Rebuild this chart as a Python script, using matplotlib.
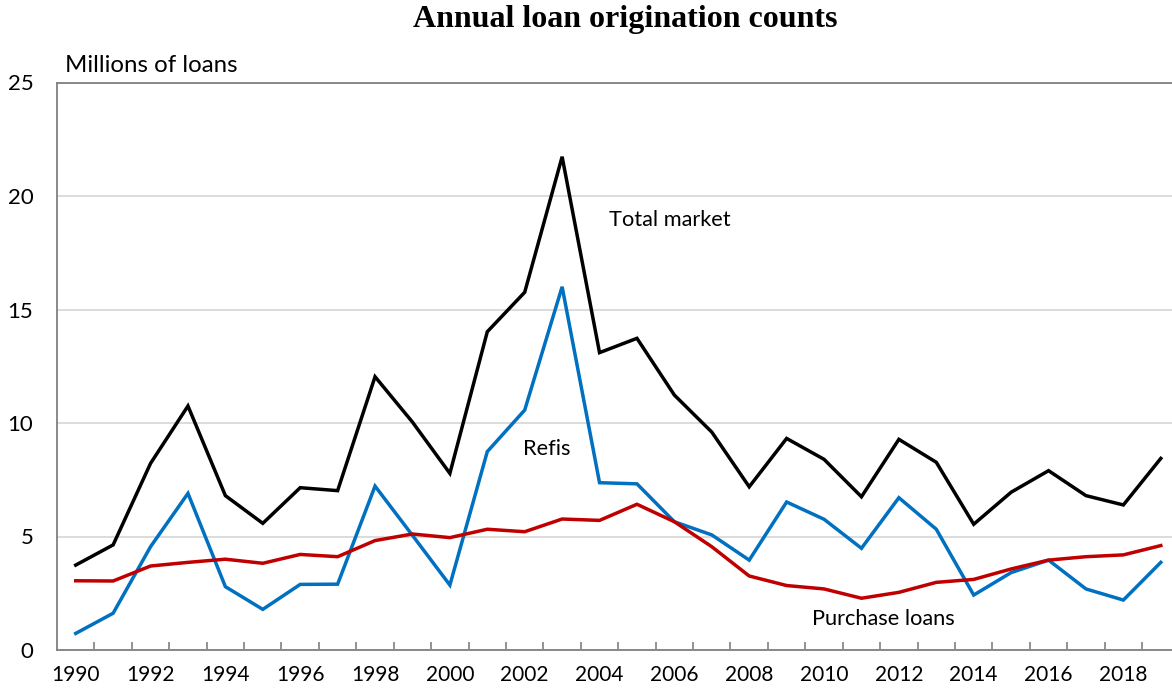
import matplotlib
matplotlib.use("Agg")
import matplotlib.pyplot as plt
import numpy as np

years = list(range(1990, 2020))
total_market = [3.74, 4.63, 8.22, 10.75, 6.80, 5.58, 7.15, 7.02, 12.04, 10.04,
                7.78, 14.02, 15.76, 21.73, 13.10, 13.73, 11.23, 9.60, 7.19, 9.32,
                8.40, 6.75, 9.28, 8.27, 5.54, 6.95, 7.90, 6.80, 6.39, 8.44]
refis = [0.73, 1.62, 4.55, 6.90, 2.79, 1.79, 2.89, 2.90, 7.22, 5.05,
         2.86, 8.74, 10.57, 16.00, 7.37, 7.32, 5.65, 5.07, 3.96, 6.52,
         5.76, 4.48, 6.71, 5.32, 2.42, 3.41, 3.96, 2.69, 2.20, 3.86]
purchase = [3.05, 3.04, 3.70, 3.86, 4.00, 3.82, 4.21, 4.11, 4.82, 5.11,
            4.95, 5.32, 5.21, 5.77, 5.71, 6.42, 5.65, 4.55, 3.26, 2.84,
            2.69, 2.28, 2.54, 2.98, 3.11, 3.57, 3.96, 4.11, 4.19, 4.60]
y_ticks = [0, 5, 10, 15, 20, 25]

W, H = 1172, 696
fig = plt.figure(figsize=(W / 100, H / 100), dpi=100)
left, right, top, bottom = 57, 1179.5, 82.5, 650
ax = fig.add_axes([left / W, 1 - bottom / H, (right - left) / W, (bottom - top) / H])

font = "Lato"
x = np.arange(len(years))
ax.plot(x, total_market, color="black", lw=2.5, solid_joinstyle="miter", zorder=3)
ax.plot(x, refis, color="#0070C0", lw=2.5, solid_joinstyle="miter", zorder=3)
ax.plot(x, purchase, color="#C00000", lw=2.5, solid_joinstyle="miter", zorder=4)

ax.set_xlim(-0.5, len(years) - 0.5)
ax.set_ylim(0, 25)
ax.set_yticks(y_ticks)
ax.set_yticklabels([str(v) for v in y_ticks], fontfamily=font, fontsize=16)
ax.tick_params(axis="y", length=0, pad=17)
ax.grid(axis="y", color="#D9D9D9", lw=1.3, zorder=0)
ax.set_axisbelow(True)

maj = [i for i, yv in enumerate(years) if yv % 2 == 0]
ax.set_xticks(maj)
ax.set_xticklabels([str(years[i]) for i in maj], fontfamily=font, fontsize=15)
ax.tick_params(axis="x", which="major", length=0, pad=11)
ax.set_xticks(np.arange(len(years) - 1) + 0.5, minor=True)
ax.tick_params(axis="x", which="minor", direction="in", length=6, width=1.2, color="#808080")

for s in ["left", "bottom", "top"]:
    ax.spines[s].set_color("#808080")
    ax.spines[s].set_linewidth(1.3)
ax.spines["right"].set_visible(False)

ax.text(14.25, 18.94, "Total market", fontfamily=font, fontsize=15.7, ha="left", va="center")
ax.text(11.95, 8.85, "Refis", fontfamily=font, fontsize=15.7, ha="left", va="center")
ax.text(19.68, 1.37, "Purchase loans", fontfamily=font, fontsize=15.7, ha="left", va="center")

fig.text(65 / W, 1 - 66 / H, "Millions of loans", fontfamily=font, fontsize=17.3, ha="left", va="center")
fig.text(625 / W, 1 - 20 / H, "Annual loan origination counts", fontfamily="Liberation Serif",
         fontweight="bold", fontsize=23, ha="center", va="center")

fig.savefig("out.png", dpi=100)
